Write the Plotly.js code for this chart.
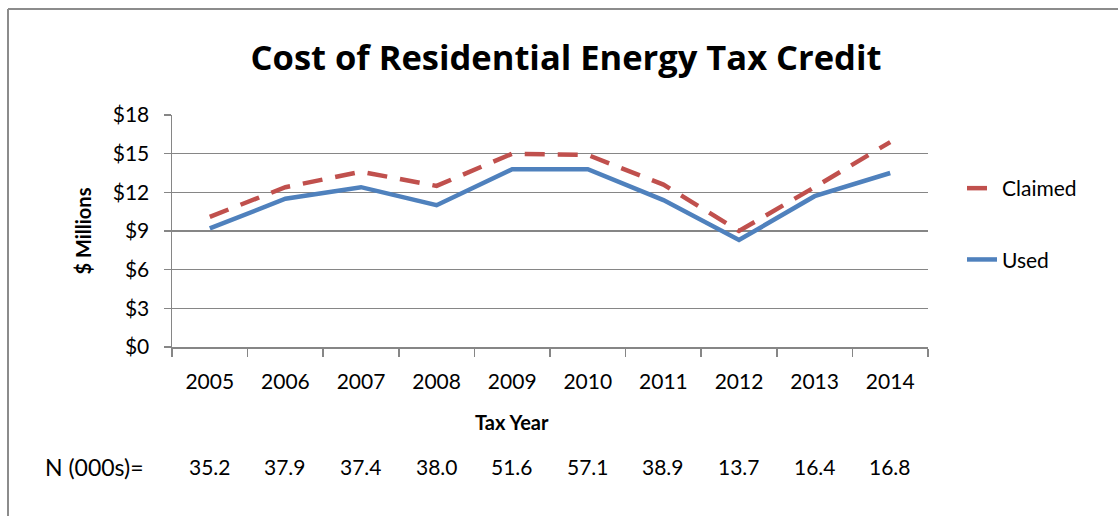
<!DOCTYPE html>
<html><head><meta charset="utf-8">
<script src="https://cdn.plot.ly/plotly-3.0.1.min.js"></script>
<style>html,body{margin:0;padding:0;background:#fff}#chart{width:1118px;height:516px}</style>
</head><body><div id="chart"></div>
<script>
const years = ['2005','2006','2007','2008','2009','2010','2011','2012','2013','2014'];
const claimed = [10.1, 12.4, 13.6, 12.5, 15.0, 14.9, 12.6, 9.0, 12.4, 15.9];
const used = [9.2, 11.5, 12.4, 11.0, 13.8, 13.8, 11.4, 8.3, 11.7, 13.5];
const nCounts = ['35.2','37.9','37.4','38.0','51.6','57.1','38.9','13.7','16.4','16.8'];
const yTicks = [0, 3, 6, 9, 12, 15, 18];
const yTickText = ['$0','$3','$6','$9','$12','$15','$18'];

const FONT = 'Lato, "Open Sans", sans-serif';
const TFONT = '"Open Sans", Lato, sans-serif';
const W = 1118, H = 516, L = 172, R = 190, T = 115, B = 169;
const pw = W - L - R, ph = H - T - B;
const px = x => (x - L) / pw;
const py = y => (H - B - y) / ph;

const traces = [
  {x: years, y: claimed, name: 'Claimed', type: 'scatter', mode: 'lines', legendgroup: 'a',
   line: {color: '#C0504D', width: 4.5, dash: '20px,13px'}},
  {x: years, y: used, name: 'Used', type: 'scatter', mode: 'lines', legendgroup: 'b',
   line: {color: '#4F81BD', width: 4.5}}
];

const annotations = years.map((yr, i) => ({
  x: i, xref: 'x', y: py(466), yref: 'paper', text: nCounts[i], showarrow: false,
  font: {family: FONT, size: 21, color: '#000'}, xanchor: 'center', yanchor: 'middle'
}));
annotations.push({x: px(146), xref: 'paper', y: py(467), yref: 'paper', text: 'N (000s)=',
  showarrow: false, xanchor: 'right', yanchor: 'middle', font: {family: FONT, size: 23, color: '#000'}});
annotations.push({x: px(512), xref: 'paper', y: py(422), yref: 'paper', text: '<b>Tax Year</b>',
  showarrow: false, xanchor: 'center', yanchor: 'middle', font: {family: FONT, size: 20, color: '#000'}});

const layout = {
  width: W, height: H,
  margin: {l: L, r: R, t: T, b: B},
  paper_bgcolor: '#fff', plot_bgcolor: '#fff',
  font: {family: FONT, color: '#000'},
  title: {text: '<b>Cost of Residential Energy Tax Credit</b>', font: {family: TFONT, size: 34.5, color: '#000'},
          x: 566 / W, xanchor: 'center', y: 1 - 58 / H, yanchor: 'middle'},
  showlegend: true,
  legend: {x: px(962), xanchor: 'left', y: py(168), yanchor: 'top', font: {family: FONT, size: 21, color: '#000'},
           tracegroupgap: 41, traceorder: 'grouped', bgcolor: 'rgba(0,0,0,0)', itemwidth: 30},
  xaxis: {type: 'category', tickson: 'boundaries', ticks: 'outside', ticklen: 8, tickcolor: '#868686', tickwidth: 1.5,
          showline: true, linecolor: '#868686', linewidth: 1.5, showgrid: false, zeroline: false,
          tickfont: {family: FONT, size: 21, color: '#000'}, range: [-0.5, 9.5], ticklabelstandoff: 15},
  yaxis: {range: [0, 18], tickvals: yTicks, ticktext: yTickText, ticks: 'outside', ticklen: 7, tickcolor: '#868686', tickwidth: 1.5,
          showline: true, linecolor: '#868686', linewidth: 1.5, showgrid: true, gridcolor: '#868686', gridwidth: 1.5, zeroline: false,
          tickfont: {family: FONT, size: 21, color: '#000'}, ticklabelstandoff: 10,
          title: {text: '<b>$ Millions</b>', font: {family: FONT, size: 20, color: '#000'}, standoff: 16}},
  annotations: annotations,
  shapes: [
    {type: 'line', xref: 'paper', yref: 'paper', x0: px(8), x1: px(8), y0: py(H + 2), y1: py(9), line: {color: '#8c8c8c', width: 2}},
    {type: 'line', xref: 'paper', yref: 'paper', x0: px(8), x1: px(W + 2), y0: py(9), y1: py(9), line: {color: '#8c8c8c', width: 2}}
  ]
};

Plotly.newPlot('chart', traces, layout, {displayModeBar: false, staticPlot: true});
</script></body></html>
